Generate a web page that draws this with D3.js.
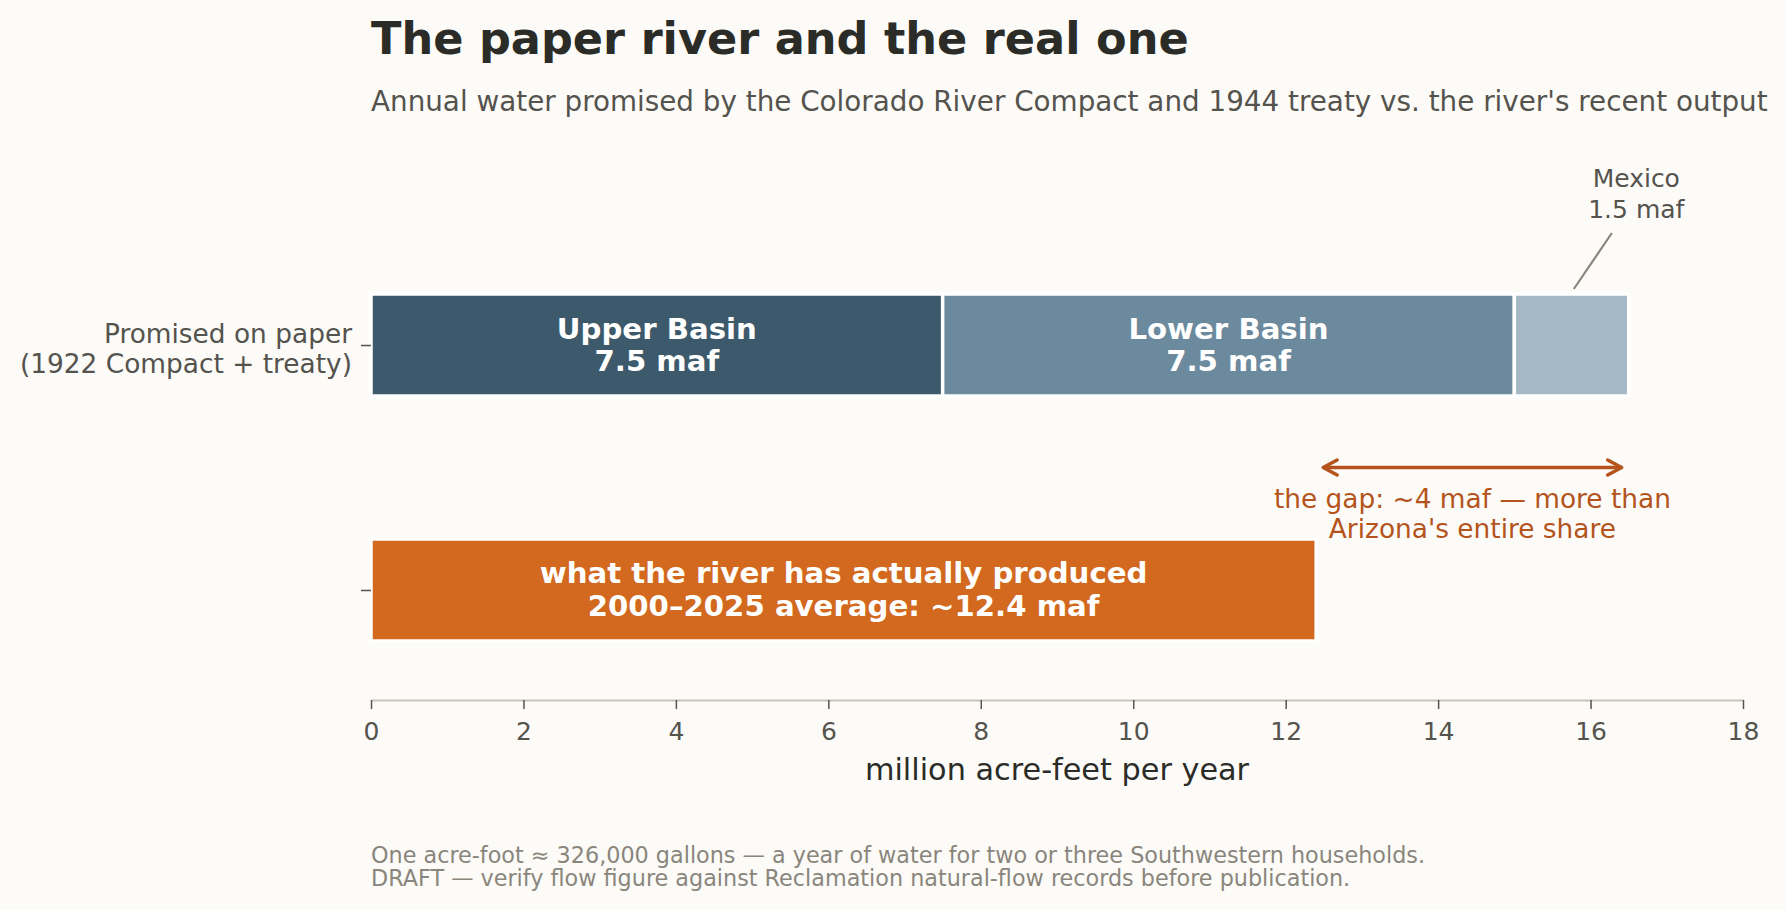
<!DOCTYPE html>
<html>
<head>
<meta charset="utf-8">
<script src="https://cdn.jsdelivr.net/npm/d3@7/dist/d3.min.js"></script>
<style>
  html, body { margin: 0; padding: 0; background: #fcfbf8; }
  svg { display: block; font-family: "DejaVu Sans", sans-serif; }
  svg text { font-family: "DejaVu Sans", sans-serif; }
</style>
</head>
<body>
<svg id="chart" width="1786" height="910"></svg>
<script>
// ---- data ----
const categories = ["promised", "actual"];
const categoryLabels = [["Promised on paper", "(1922 Compact + treaty)"], []];
const segmentNames = ["Upper Basin", "Lower Basin", "Mexico"];
const segmentValues = [7.5, 7.5, 1.5];
const segmentColors = ["#3d5a6c", "#6b8a9d", "#a5b8c6"];
const actualFlow = 12.4;
const actualLabel = ["what the river has actually produced", "2000\u20132025 average: ~12.4 maf"];
const gapLabel = ["the gap: ~4 maf \u2014 more than", "Arizona's entire share"];
const mexicoLabel = ["Mexico", "1.5 maf"];
const xTicks = [0, 2, 4, 6, 8, 10, 12, 14, 16, 18];

const svg = d3.select("#chart");
const W = 1786, H = 910;
svg.append("rect").attr("width", W).attr("height", H).attr("fill", "#fcfbf8");

const x = d3.scaleLinear().domain([0, 18]).range([371, 1743]);
const y = d3.scalePoint().domain(categories).range([345, 590]);
const barH = 102;

// title & subtitle
svg.append("text").attr("x", 371).attr("y", 54)
  .attr("font-size", 44.6).attr("font-weight", "bold").attr("fill", "#2b2b27")
  .text("The paper river and the real one");
svg.append("text").attr("x", 371).attr("y", 111)
  .attr("font-size", 27.8).attr("fill", "#55534d")
  .text("Annual water promised by the Colorado River Compact and 1944 treaty vs. the river's recent output");

// stacked promised bar
let cum = 0;
const stacked = segmentValues.map((v, i) => {
  const d = { name: segmentNames[i], value: v, x0: cum, x1: cum + v, color: segmentColors[i] };
  cum += v;
  return d;
});

svg.append("g").selectAll("rect").data(stacked).join("rect")
  .attr("x", d => x(d.x0)).attr("width", d => x(d.x1) - x(d.x0))
  .attr("y", y("promised") - barH / 2).attr("height", barH)
  .attr("fill", d => d.color).attr("stroke", "#ffffff").attr("stroke-width", 3.5);

// labels inside the first two segments
stacked.slice(0, 2).forEach(d => {
  const t = svg.append("text").attr("text-anchor", "middle")
    .attr("font-size", 29.2).attr("font-weight", "bold").attr("fill", "#ffffff");
  t.append("tspan").attr("x", x((d.x0 + d.x1) / 2)).attr("y", y("promised") - 6).text(d.name);
  t.append("tspan").attr("x", x((d.x0 + d.x1) / 2)).attr("y", y("promised") + 26).text(d3.format(".1f")(d.value) + " maf");
});

// actual bar
svg.append("rect")
  .attr("x", x(0)).attr("width", x(actualFlow) - x(0))
  .attr("y", y("actual") - barH / 2).attr("height", barH)
  .attr("fill", "#d2691e").attr("stroke", "#ffffff").attr("stroke-width", 3.5);
{
  const t = svg.append("text").attr("text-anchor", "middle")
    .attr("font-size", 29.2).attr("font-weight", "bold").attr("fill", "#ffffff");
  actualLabel.forEach((s, i) => {
    t.append("tspan").attr("x", x(actualFlow / 2)).attr("y", y("actual") - 7 + i * 33).text(s);
  });
}

// Mexico annotation
{
  const t = svg.append("text").attr("text-anchor", "middle")
    .attr("font-size", 25).attr("fill", "#55534d");
  mexicoLabel.forEach((s, i) => {
    t.append("tspan").attr("x", x(16.6)).attr("y", 187 + i * 31).text(s);
  });
  svg.append("line")
    .attr("x1", x(16.28)).attr("y1", 233)
    .attr("x2", x(15.78)).attr("y2", y("promised") - barH / 2 - 5)
    .attr("stroke", "#8a857d").attr("stroke-width", 2.2);
}

// gap arrow
const gapColor = "#b4541c";
{
  const ay = 467.5;
  const xa = x(actualFlow) + 7, xb = x(cum) - 7;
  svg.append("line").attr("x1", xa).attr("x2", xb).attr("y1", ay).attr("y2", ay)
    .attr("stroke", gapColor).attr("stroke-width", 3.5);
  const hl = 14, hw = 7.5;
  svg.append("path")
    .attr("d", `M${xa + hl},${ay - hw} L${xa},${ay} L${xa + hl},${ay + hw}`)
    .attr("fill", "none").attr("stroke", gapColor).attr("stroke-width", 3.5)
    .attr("stroke-linecap", "round").attr("stroke-linejoin", "round");
  svg.append("path")
    .attr("d", `M${xb - hl},${ay - hw} L${xb},${ay} L${xb - hl},${ay + hw}`)
    .attr("fill", "none").attr("stroke", gapColor).attr("stroke-width", 3.5)
    .attr("stroke-linecap", "round").attr("stroke-linejoin", "round");
  const t = svg.append("text").attr("text-anchor", "middle")
    .attr("font-size", 26.4).attr("fill", gapColor);
  gapLabel.forEach((s, i) => {
    t.append("tspan").attr("x", (xa + xb) / 2).attr("y", 508 + i * 29.5).text(s);
  });
}

// y axis (ticks only)
const yAxis = svg.append("g").attr("transform", `translate(${x(0)},0)`)
  .call(d3.axisLeft(y).tickSize(10).tickFormat(""));
yAxis.attr("font-family", "DejaVu Sans");
yAxis.select(".domain").remove();
yAxis.selectAll(".tick line").attr("stroke", "#55534d").attr("stroke-width", 1.5);
yAxis.selectAll(".tick").each(function(d, i) {
  const lines = categoryLabels[i];
  const t = d3.select(this).append("text").attr("text-anchor", "end")
    .attr("font-size", 26.4).attr("fill", "#55534d").attr("font-family", "DejaVu Sans");
  lines.forEach((s, j) => {
    t.append("tspan").attr("x", -19).attr("y", -3 + j * 30).text(s);
  });
});

// x axis
const xAxis = svg.append("g").attr("transform", "translate(0,700)")
  .call(d3.axisBottom(x).tickValues(xTicks).tickSize(9).tickSizeOuter(0).tickFormat(d3.format("d")));
xAxis.attr("font-family", "DejaVu Sans");
xAxis.select(".domain").attr("stroke", "#c8c4bc").attr("stroke-width", 2.2);
xAxis.selectAll(".tick line").attr("stroke", "#55534d").attr("stroke-width", 1.5);
xAxis.selectAll(".tick text").attr("y", 40).attr("dy", 0)
  .attr("font-size", 25).attr("fill", "#55534d").attr("font-family", "DejaVu Sans");

svg.append("text").attr("x", (x(0) + x(18)) / 2).attr("y", 780)
  .attr("text-anchor", "middle").attr("font-size", 30.3).attr("fill", "#2b2b27")
  .text("million acre-feet per year");

// footer
const foot = svg.append("text").attr("font-size", 22.3).attr("fill", "#8a867c");
foot.append("tspan").attr("x", 371).attr("y", 863).text("One acre-foot \u2248 326,000 gallons \u2014 a year of water for two or three Southwestern households.");
foot.append("tspan").attr("x", 371).attr("y", 886).text("DRAFT \u2014 verify flow figure against Reclamation natural-flow records before publication.");
</script>
</body>
</html>
